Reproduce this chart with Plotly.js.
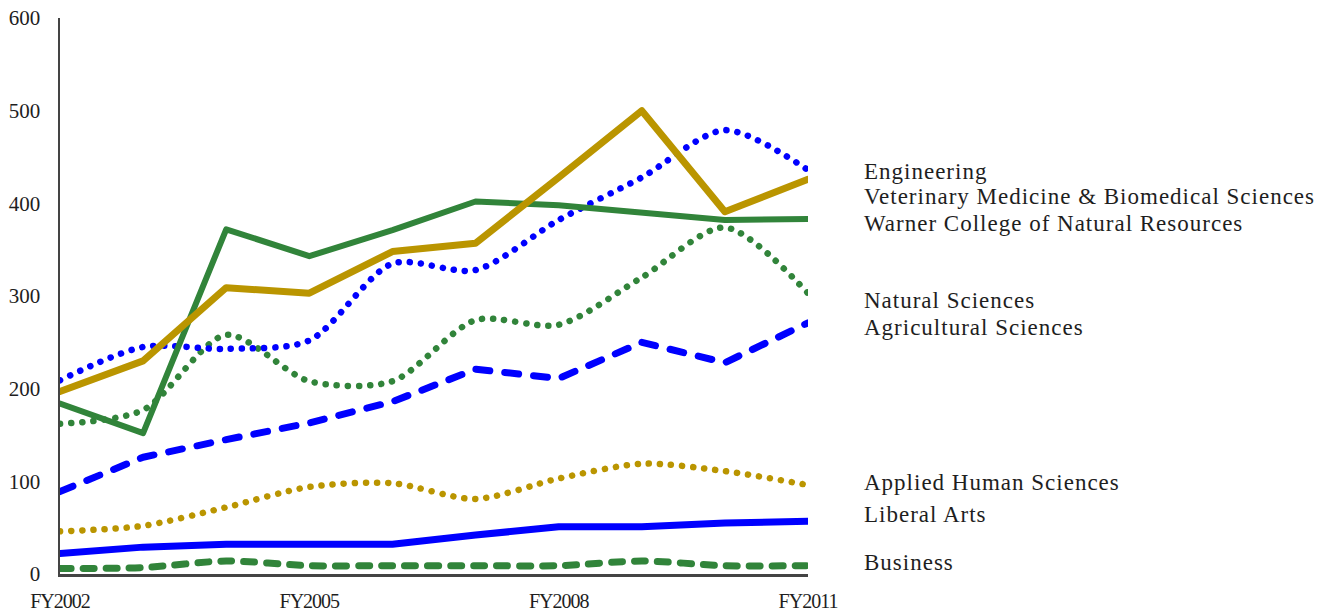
<!DOCTYPE html>
<html>
<head>
<meta charset="utf-8">
<script src="https://cdn.plot.ly/plotly-3.0.1.min.js"></script>
<style>
html,body{margin:0;padding:0;background:#fff;}
#chart{width:1327px;height:612px;}
#chart path.js-line{stroke-linecap:round;stroke-linejoin:round;}
#chart .annotation-text{letter-spacing:1px;}
#chart .xtick text{letter-spacing:-1px;}
</style>
</head>
<body>
<div id="chart"></div>
<script>
const years = ["FY2002","FY2003","FY2004","FY2005","FY2006","FY2007","FY2008","FY2009","FY2010","FY2011"];
const tickYears = ["FY2002","FY2005","FY2008","FY2011"];

const engineering   = [209, 245, 243, 252, 335, 328, 382, 428, 479, 436];
const vetMed        = [197, 230, 309, 303, 348, 357, 428, 500, 391, 426];
const warner        = [184, 152, 372, 343, 371, 402, 398, 390, 382, 383];
const naturalSci    = [162, 177, 258, 208, 208, 274, 269, 320, 374, 303];
const agricultural  = [89, 126, 145, 163, 186, 221, 211, 250, 228, 271];
const appliedHuman  = [46, 52, 72, 94, 98, 81, 103, 119, 111, 96];
const liberalArts   = [22, 29, 32, 32, 32, 42, 51, 51, 55, 57];
const business      = [6, 7, 14, 9, 9, 9, 9, 14, 9, 9];

const seriesNames = ["Engineering","Veterinary Medicine & Biomedical Sciences","Warner College of Natural Resources","Natural Sciences","Agricultural Sciences","Applied Human Sciences","Liberal Arts","Business"];
const labelY = [434, 407, 378, 295, 266, 99, 64, 12];

const BLUE = "#0000FF", GREEN = "#31843A", GOLD = "#BA9500";

function tr(name, y, color, width, dash, shape) {
  return {x: years, y: y, name: name, type: "scatter", mode: "lines",
    line: {color: color, width: width, dash: dash, shape: shape || "linear", smoothing: 0.8},
    hoverinfo: "skip", showlegend: false};
}

const data = [
  tr(seriesNames[5], appliedHuman, GOLD, 6.5, "0.1px,11px", "spline"),
  tr(seriesNames[7], business, GREEN, 7, "11px,12px", "spline"),
  tr(seriesNames[6], liberalArts, BLUE, 7, "solid"),
  tr(seriesNames[4], agricultural, BLUE, 7, "14px,15px"),
  tr(seriesNames[3], naturalSci, GREEN, 6.5, "0.1px,11px", "spline"),
  tr(seriesNames[0], engineering, BLUE, 6.5, "0.1px,11px", "spline"),
  tr(seriesNames[2], warner, GREEN, 6, "solid"),
  tr(seriesNames[1], vetMed, GOLD, 7, "solid")
];

const FONT = "Liberation Serif, Times New Roman, serif";

const annotations = seriesNames.map((n, i) => ({
  text: n, xref: "paper", x: 1.0725, xanchor: "left", align: "left", yref: "y", y: labelY[i], yanchor: "middle",
  showarrow: false, font: {family: FONT, size: 23, color: "#1e1e1e"}
}));

const layout = {
  width: 1327, height: 612,
  margin: {l: 60, r: 519, t: 18, b: 38},
  paper_bgcolor: "#fff", plot_bgcolor: "#fff",
  font: {family: FONT, color: "#1e1e1e"},
  xaxis: {type: "category", categoryorder: "array", categoryarray: years,
    range: [0, 9], tickvals: tickYears, ticktext: tickYears,
    showgrid: false, zeroline: false, showline: true, linecolor: "#444", linewidth: 2.5,
    ticks: "", ticklabelstandoff: 7, tickfont: {family: FONT, size: 20, color: "#1e1e1e"}},
  yaxis: {range: [0, 600], tickvals: [0,100,200,300,400,500,600],
    showgrid: false, zeroline: false, showline: true, linecolor: "#444", linewidth: 2.5,
    ticks: "", ticklabelstandoff: 13, tickfont: {family: FONT, size: 21, color: "#1e1e1e"}},
  annotations: annotations
};

Plotly.newPlot("chart", data, layout, {staticPlot: true, displayModeBar: false});
</script>
</body>
</html>
